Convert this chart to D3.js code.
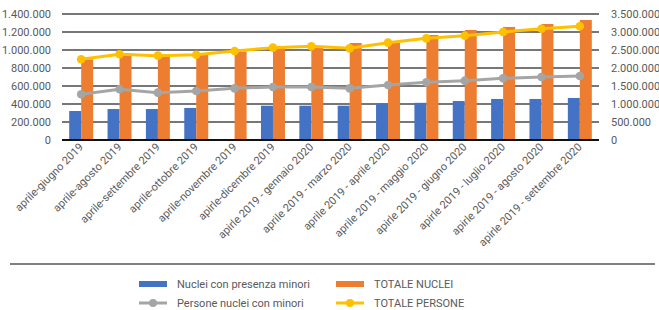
<!DOCTYPE html>
<html>
<head>
<meta charset="utf-8">
<script src="https://cdn.jsdelivr.net/npm/d3@7"></script>
<style>
  body { margin: 0; background: #fff; }
  svg { display: block; font-family: Roboto, "Noto Sans", sans-serif; }
</style>
</head>
<body>
<svg id="chart" width="659" height="310"></svg>
<script>
// Data
const categories = [
  'aprile-giugno 2019', 'aprile-agosto 2019', 'aprile-settembre 2019', 'aprile-ottobre 2019',
  'aprile-novembre 2019', 'apirle-dicembre 2019', 'apirle 2019 - gennaio 2020',
  'aprile 2019 - marzo 2020', 'aprile 2019 - aprile 2020', 'aprile 2019 - maggio 2020',
  'apirle 2019 - giugno 2020', 'apirle 2019 - luglio 2020', 'apirle 2019 - agosto 2020',
  'apirle 2019 - settembre 2020'
];
const nucleiMinori = [322000, 344000, 344000, 356000, null, 381000, 381000, 381000, 404000, 413000, 433000, 456000, 456000, 467000];
const totaleNuclei = [897000, 963000, 933000, 952000, 981000, 1026000, 1030000, 1078000, 1080000, 1167000, 1222000, 1256000, 1289000, 1333000];
const personeMinori = [1269000, 1408000, 1315000, 1361000, 1435000, 1472000, 1472000, 1435000, 1528000, 1602000, 1648000, 1713000, 1750000, 1778000];
const totalePersone = [2242000, 2380000, 2343000, 2370000, 2472000, 2565000, 2602000, 2546000, 2704000, 2824000, 2898000, 3000000, 3092000, 3158000];
const leftTicks = [0, 200000, 400000, 600000, 800000, 1000000, 1200000, 1400000];
const rightTicks = [0, 500000, 1000000, 1500000, 2000000, 2500000, 3000000, 3500000];

const colors = { blue: '#4472c4', orange: '#ed7d31', gray: '#a5a5a5', yellow: '#ffc000' };
const fmt = v => d3.format(',')(v).replace(/,/g, '.');

const svg = d3.select('#chart');
const plot = { left: 62, right: 599, top: 14, bottom: 140 };

const x = d3.scaleBand().domain(categories).range([plot.left, plot.right]).padding(0);
const xs = d3.scaleBand().domain(['a', 'b']).range([0, x.bandwidth()]).paddingInner(0).paddingOuter(0.6);
const yL = d3.scaleLinear().domain([0, 1400000]).range([plot.bottom, plot.top]);
const yR = d3.scaleLinear().domain([0, 3500000]).range([plot.bottom, plot.top]);

// Gridlines
svg.append('g')
  .selectAll('line')
  .data(leftTicks.slice(1))
  .join('line')
  .attr('x1', plot.left).attr('x2', plot.right)
  .attr('y1', d => yL(d)).attr('y2', d => yL(d))
  .attr('stroke', '#4a4a4a')
  .attr('stroke-width', 1.6);

// Left axis labels
svg.append('g')
  .attr('transform', `translate(${plot.left - 8},0)`)
  .call(d3.axisLeft(yL).tickValues(leftTicks).tickFormat(fmt).tickSize(0))
  .call(g => g.select('.domain').remove())
  .call(g => g.selectAll('text').attr('fill', '#595959').attr('font-size', '11px').attr('font-family', 'Roboto'));

// Right axis labels
svg.append('g')
  .attr('transform', `translate(${plot.right + 9},0)`)
  .call(d3.axisRight(yR).tickValues(rightTicks).tickFormat(fmt).tickSize(0))
  .call(g => g.select('.domain').remove())
  .call(g => g.selectAll('text').attr('fill', '#595959').attr('font-size', '11px').attr('font-family', 'Roboto'));

// Bars
const rows = categories.map((c, i) => ({ cat: c, a: nucleiMinori[i], b: totaleNuclei[i] }));
const barGroups = svg.append('g')
  .selectAll('g')
  .data(rows)
  .join('g')
  .attr('transform', d => `translate(${x(d.cat)},0)`);

barGroups.filter(d => d.a != null).append('rect')
  .attr('x', xs('a'))
  .attr('width', xs.bandwidth())
  .attr('y', d => yL(d.a))
  .attr('height', d => yL(0) - yL(d.a))
  .attr('fill', colors.blue);

barGroups.append('rect')
  .attr('x', xs('b'))
  .attr('width', xs.bandwidth())
  .attr('y', d => yL(d.b))
  .attr('height', d => yL(0) - yL(d.b))
  .attr('fill', colors.orange);

// X axis line
svg.append('line')
  .attr('x1', plot.left).attr('x2', plot.right)
  .attr('y1', plot.bottom).attr('y2', plot.bottom)
  .attr('stroke', '#111')
  .attr('stroke-width', 1.8);

// Lines on the right axis
const cx = d => x(d) + x.bandwidth() / 2;
function drawLine(values, color) {
  const line = d3.line()
    .x((v, i) => cx(categories[i]))
    .y(v => yR(v));
  svg.append('path')
    .datum(values)
    .attr('d', line)
    .attr('fill', 'none')
    .attr('stroke', color)
    .attr('stroke-width', 3)
    .attr('stroke-linejoin', 'round');
  svg.append('g')
    .selectAll('circle')
    .data(values)
    .join('circle')
    .attr('cx', (v, i) => cx(categories[i]))
    .attr('cy', v => yR(v))
    .attr('r', 4.3)
    .attr('fill', color);
}
drawLine(personeMinori, colors.gray);
drawLine(totalePersone, colors.yellow);

// X labels, rotated
svg.append('g')
  .attr('transform', `translate(0,${plot.bottom + 5})`)
  .call(d3.axisBottom(x).tickSize(0).tickPadding(0))
  .call(g => g.select('.domain').remove())
  .call(g => g.selectAll('text')
    .attr('fill', '#595959')
    .attr('font-size', '11px')
    .attr('font-family', 'Roboto')
    .attr('text-anchor', 'end')
    .attr('dy', '0.35em')
    .attr('transform', 'rotate(-45)'));

// Separator line above legend
svg.append('line')
  .attr('x1', 10).attr('x2', 655)
  .attr('y1', 264).attr('y2', 264)
  .attr('stroke', '#7f7f7f')
  .attr('stroke-width', 2);

// Legend
const legendItems = [
  { name: 'Nuclei con presenza minori', color: colors.blue, type: 'bar', x: 139, y: 284 },
  { name: 'TOTALE NUCLEI', color: colors.orange, type: 'bar', x: 336, y: 284 },
  { name: 'Persone nuclei con minori', color: colors.gray, type: 'line', x: 139, y: 303 },
  { name: 'TOTALE PERSONE', color: colors.yellow, type: 'line', x: 336, y: 303 }
];
const legend = svg.append('g')
  .selectAll('g')
  .data(legendItems)
  .join('g')
  .attr('transform', d => `translate(${d.x},${d.y})`);

legend.filter(d => d.type === 'bar').append('rect')
  .attr('x', 0).attr('y', -3).attr('width', 28).attr('height', 6)
  .attr('fill', d => d.color);
legend.filter(d => d.type === 'line').append('line')
  .attr('x1', 0).attr('x2', 28).attr('y1', 0).attr('y2', 0)
  .attr('stroke', d => d.color).attr('stroke-width', 3);
legend.filter(d => d.type === 'line').append('circle')
  .attr('cx', 14).attr('cy', 0).attr('r', 4)
  .attr('fill', d => d.color);
legend.append('text')
  .attr('x', 38).attr('y', 0).attr('dy', '0.35em')
  .attr('fill', '#595959')
  .attr('font-size', '11px')
  .text(d => d.name);
</script>
</body>
</html>
